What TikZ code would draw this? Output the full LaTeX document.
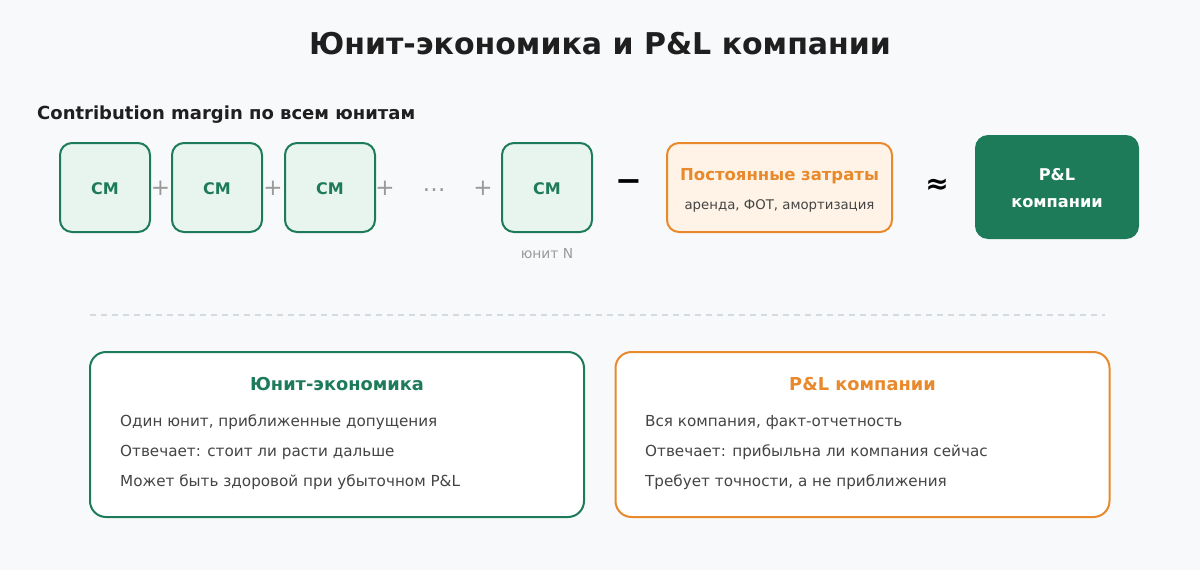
\documentclass[tikz,border=0pt]{standalone}
\usepackage{fontspec}
\setmainfont{DejaVu Sans}
\definecolor{bg}{HTML}{F8F9FB}
\definecolor{grn}{HTML}{1E7B5A}
\definecolor{grnfill}{HTML}{E8F5EE}
\definecolor{org}{HTML}{E8892B}
\definecolor{orgfill}{HTML}{FEF3E6}
\definecolor{txt}{HTML}{444444}
\definecolor{gry}{HTML}{9A9A9A}
\definecolor{dashcol}{HTML}{D5DAE0}
\begin{document}
\begin{tikzpicture}[x=1pt,y=-1pt,
  cmbox/.style={draw=grn,fill=grnfill,line width=2pt,rounded corners=12pt,minimum width=90pt,minimum height=89pt,inner sep=0pt,font=\bfseries\fontsize{16}{19}\selectfont,text=grn},
  cmtext/.style={font=\bfseries\fontsize{16}{19}\selectfont,text=grn,inner sep=0pt},
  op/.style={font=\fontsize{23}{25}\selectfont,text=gry,inner sep=0pt},
  panel/.style={draw=#1,fill=white,line width=2pt,rounded corners=16pt,minimum width=494pt,minimum height=165pt,inner sep=0pt},
  ptitle/.style={font=\bfseries\fontsize{17.8}{21}\selectfont,text=#1},
  pline/.style={font=\fontsize{15.2}{18}\selectfont,text=txt,anchor=west,inner sep=0pt}
]
\fill[bg] (0,0) rectangle (1200,570);
\useasboundingbox (0,0) rectangle (1200,570);
\node[font=\bfseries\fontsize{30}{34}\selectfont,text=black!88] (title) at (600,44) {Юнит-экономика и P\&L компании};
\node[font=\bfseries\fontsize{18}{21}\selectfont,text=black!88,anchor=west,inner sep=0pt] (cmlabel) at (37,115) {Contribution margin по всем юнитам};
\node[cmbox] (cm1) at (105,187.5) {};
\node[cmbox] (cm2) at (217,187.5) {};
\node[cmbox] (cm3) at (330,187.5) {};
\node[cmbox] (cm5) at (547,187.5) {};
\node[cmtext] at (105,189) {CM};
\node[cmtext] at (217,189) {CM};
\node[cmtext] at (330,189) {CM};
\node[cmtext] at (547,189) {CM};
\node[op] (p1) at (160.5,188) {+};
\node[op] (p2) at (273,188) {+};
\node[op] (p3) at (385,188) {+};
\node[op] (dots) at (434,190) {…};
\node[op] (p4) at (483,188) {+};
\node[font=\fontsize{13.8}{16}\selectfont,text=gry] (unitn) at (547,254) {юнит N};
\node[font=\bfseries\fontsize{32}{34}\selectfont,inner sep=0pt] (minus) at (629,186) {−};
\node[draw=org,fill=orgfill,line width=2pt,rounded corners=12pt,minimum width=225pt,minimum height=89pt,inner sep=0pt] (fixed) at (779.5,187.5) {};
\node[font=\bfseries\fontsize{16.5}{19}\selectfont,text=org] (fixedt) at (779.5,176.5) {Постоянные затраты};
\node[font=\fontsize{13.3}{16}\selectfont,text=txt] (fixeds) at (779.5,205.5) {аренда, ФОТ, амортизация};
\node[font=\bfseries\fontsize{28}{30}\selectfont,inner sep=0pt] (approx) at (937,186) {≈};
\node[fill=grn,rounded corners=13pt,minimum width=164pt,minimum height=104pt,inner sep=0pt] (pl) at (1057,187) {};
\node[text=white,font=\bfseries\fontsize{16.2}{27}\selectfont,align=center] (pltext) at (1057,188) {P\&L\\компании};
\draw[dashcol,line width=1.5pt,dash pattern=on 6pt off 5pt] (90,315) -- (1105,315);
\node[panel=grn] (left) at (337,434.5) {};
\node[panel=org] (right) at (862.5,434.5) {};
\node[ptitle=grn] (lt) at (337,384.5) {Юнит-экономика};
\node[pline] (l1) at (120,422.5) {Один юнит, приближенные допущения};
\node[pline] (l2) at (120,452.5) {Отвечает: стоит ли расти дальше};
\node[pline] (l3) at (120,482.5) {Может быть здоровой при убыточном P\&L};
\node[ptitle=org] (rt) at (862.5,384.5) {P\&L компании};
\node[pline] (r1) at (645,422.5) {Вся компания, факт-отчетность};
\node[pline] (r2) at (645,452.5) {Отвечает: прибыльна ли компания сейчас};
\node[pline] (r3) at (645,482.5) {Требует точности, а не приближения};
\end{tikzpicture}
\end{document}
